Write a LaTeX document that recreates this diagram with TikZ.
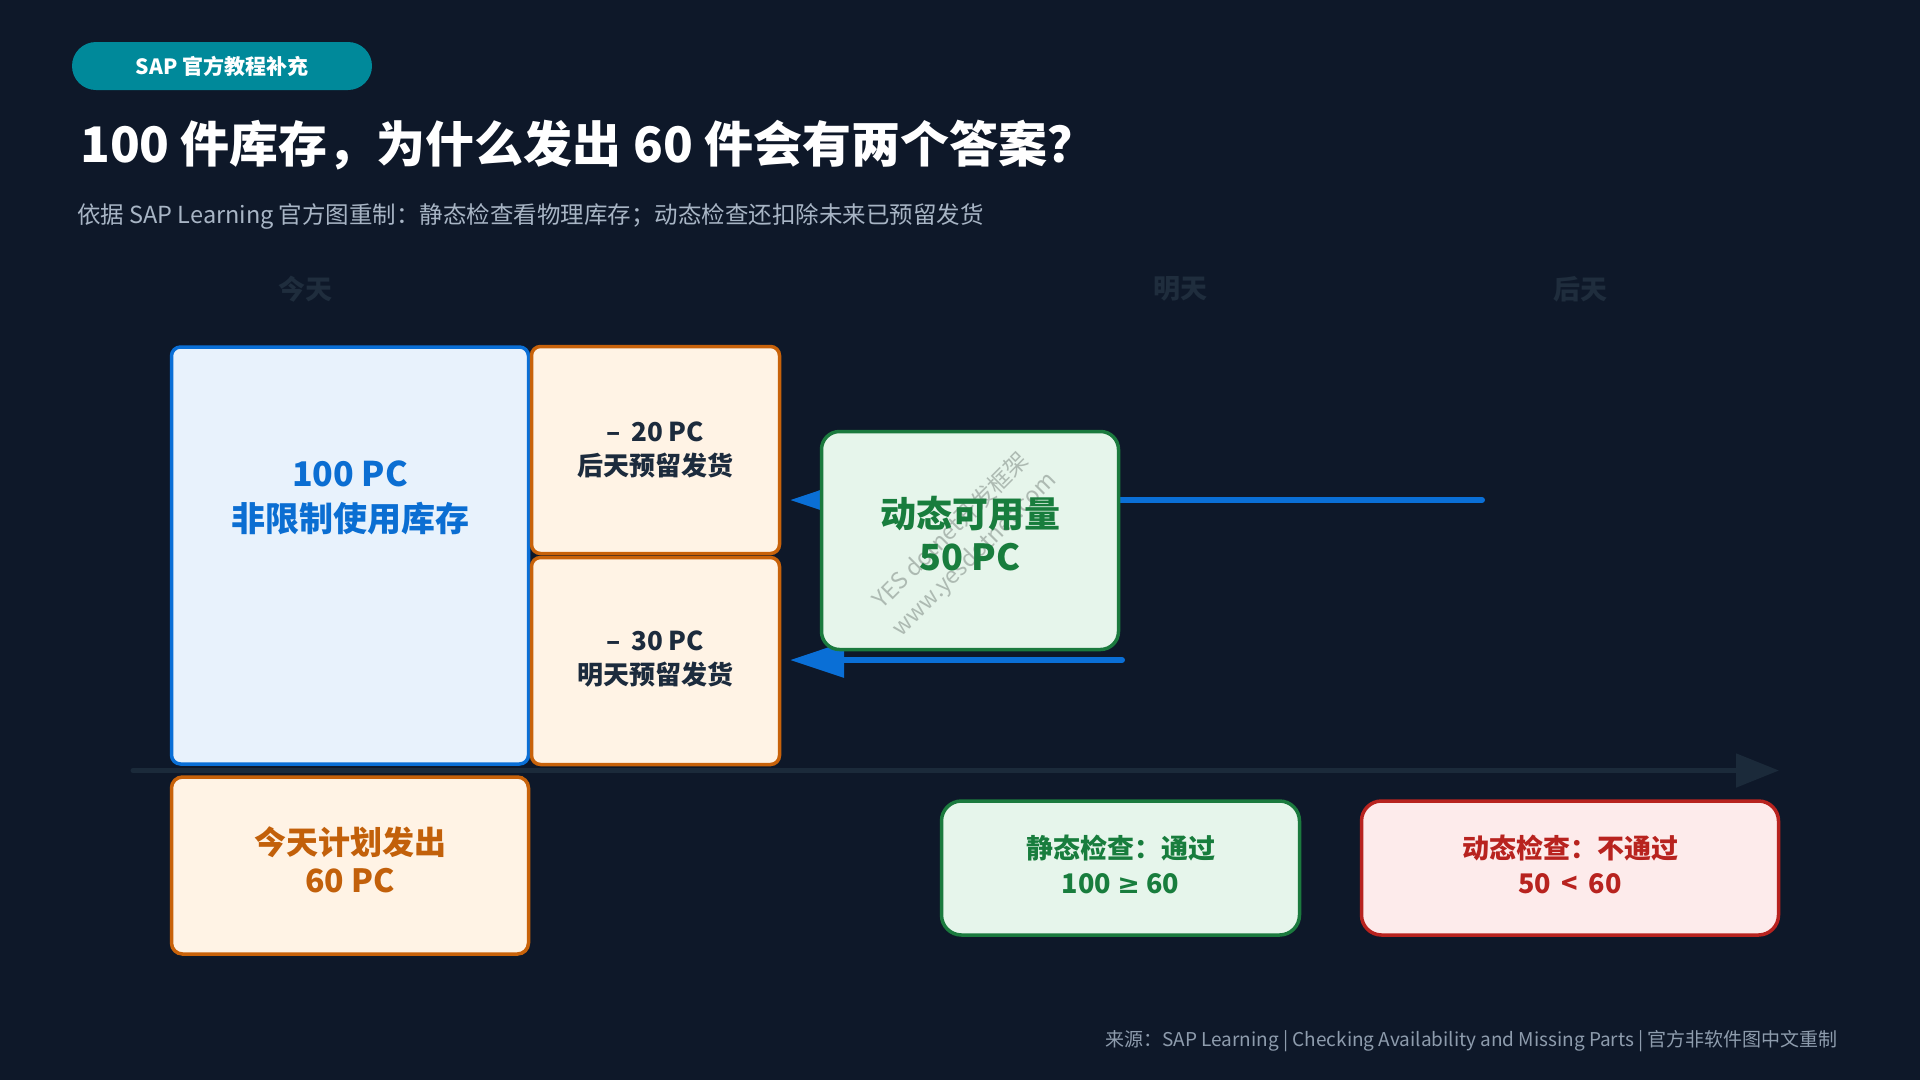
\documentclass[tikz,border=0pt]{standalone}
\usepackage{fontspec}
\setmainfont{Noto Sans CJK SC}
\newfontfamily\symfont{DejaVu Sans}
\usetikzlibrary{arrows.meta}
\definecolor{bg}{HTML}{0E1829}
\definecolor{teal}{HTML}{00899A}
\definecolor{cblue}{HTML}{0A6FD6}
\definecolor{cbluefill}{HTML}{E8F2FC}
\definecolor{cbluetext}{HTML}{0B6ED2}
\definecolor{corange}{HTML}{C8620A}
\definecolor{corangefill}{HTML}{FFF3E5}
\definecolor{corangetext}{HTML}{C2600A}
\definecolor{cdark}{HTML}{1C2B3D}
\definecolor{cgreen}{HTML}{1B7A3E}
\definecolor{cgreenfill}{HTML}{E6F5EB}
\definecolor{cgreentext}{HTML}{187D3D}
\definecolor{cred}{HTML}{B8231F}
\definecolor{credfill}{HTML}{FDEBEB}
\definecolor{credtext}{HTML}{B8231F}
\definecolor{dayc}{HTML}{1F2D3D}
\definecolor{axisc}{HTML}{1B2A3A}
\definecolor{subc}{HTML}{A8B5C5}
\definecolor{footc}{HTML}{8E9CAD}
\definecolor{wmc}{HTML}{7F8A84}
\tikzset{
  box/.style={draw, line width=3.5pt, inner sep=0pt},
  invbox/.style={box, draw=cblue, fill=cbluefill, rounded corners=9pt, minimum width=357pt, minimum height=417pt},
  resbox/.style={box, draw=corange, fill=corangefill, rounded corners=9pt, minimum width=248pt, minimum height=207pt},
  planbox/.style={box, draw=corange, fill=corangefill, rounded corners=11pt, minimum width=357pt, minimum height=177pt},
  availbox/.style={box, draw=cgreen, fill=cgreenfill, rounded corners=18pt, minimum width=297pt, minimum height=218pt},
  okbox/.style={box, draw=cgreen, fill=cgreenfill, rounded corners=20pt, minimum width=358pt, minimum height=134pt},
  failbox/.style={box, draw=cred, fill=credfill, rounded corners=20pt, minimum width=417pt, minimum height=134pt},
  txt/.style={align=center, inner sep=0pt},
  daylbl/.style={txt, text=dayc, font={\fontsize{27}{30}\selectfont\bfseries}},
  flow/.style={draw=cblue, line width=6pt, line cap=round, -{Triangle[length=54pt, width=34pt]}},
}
\begin{document}
\begin{tikzpicture}[x=1pt, y=-1pt]
\fill[bg] (0,0) rectangle (1920,1080);
\useasboundingbox (0,0) rectangle (1920,1080);

% header
\node[fill=teal, rounded corners=24pt, minimum width=300pt, minimum height=48pt, inner sep=0pt,
      text=white, font={\fontsize{21}{24}\selectfont\bfseries}] (tag) at (222,66) {SAP 官方教程补充};
\node[anchor=west, inner sep=0pt, text=white, font={\fontsize{49}{56}\selectfont\bfseries}] (title) at (80,145)
  {100 件库存，为什么发出 60 件会有两个答案？};
\node[anchor=west, inner sep=0pt, text=subc, font={\fontsize{23.5}{26}\selectfont}] (subtitle) at (77,216)
  {依据 SAP Learning 官方图重制：静态检查看物理库存；动态检查还扣除未来已预留发货};

% day labels
\node[daylbl] (today) at (305,289) {今天};
\node[daylbl] (tomorrow) at (1180,289) {明天};
\node[daylbl] (dayafter) at (1580,289) {后天};

% time axis
\coordinate (ax0) at (133,770.5);
\coordinate (ax1) at (1779,770.5);
\draw[draw=axisc, line width=5pt, line cap=round, -{Triangle[length=43pt, width=33pt]}] (ax0) -- (ax1);

% flows
\coordinate (u0) at (1482,500);
\coordinate (u1) at (790,500);
\coordinate (l0) at (1122,660);
\coordinate (l1) at (790,660);
\draw[flow] (u0) -- (u1);
\draw[flow] (l0) -- (l1);

% boxes
\node[invbox] (inv) at (350,555.5) {};
\node[txt, text=cbluetext, font={\fontsize{34}{45}\selectfont\bfseries}] (invtxt) at (350,498) {100 PC\\非限制使用库存};
\node[resbox] (res20) at (655.5,450) {};
\node[txt, text=cdark, font={\fontsize{26}{34}\selectfont\bfseries}] (res20txt) at (res20) {–\, 20 PC\\后天预留发货};
\node[resbox] (res30) at (655.5,661) {};
\node[txt, text=cdark, font={\fontsize{26}{34}\selectfont\bfseries}] (res30txt) at (655.5,659) {–\, 30 PC\\明天预留发货};
\node[planbox] (plan) at (350,865.5) {};
\node[txt, text=corangetext, font={\fontsize{32}{38}\selectfont\bfseries}] (plantxt) at (350,860) {今天计划发出\\60 PC};

\node[availbox] (avail) at (970,540.5) {};
\node[txt, rotate=45, text=wmc, opacity=0.55, font={\fontsize{23}{33}\selectfont}] (wm) at (963,543)
  {YES dotnet开发框架\\www.yesdotnet.com};
\node[txt, text=cgreentext, font={\fontsize{36}{43}\selectfont\bfseries}] (availtxt) at (970,534) {动态可用量\\50 PC};

\node[okbox] (static) at (1120.5,868) {};
\node[txt, text=cgreentext, font={\fontsize{27}{35}\selectfont\bfseries}] (statictxt) at (1120.5,864.5) {静态检查：通过\\100 {\symfont\bfseries ≥} 60};
\node[failbox] (dynamic) at (1570,868) {};
\node[txt, text=credtext, font={\fontsize{27}{35}\selectfont\bfseries}] (dynamictxt) at (1570,864.5) {动态检查：不通过\\50 \,<\, 60};

% footer
\node[anchor=east, inner sep=0pt, text=footc, font={\fontsize{19}{22}\selectfont}] (footer) at (1838,1041)
  {来源：SAP Learning | Checking Availability and Missing Parts | 官方非软件图中文重制};
\end{tikzpicture}
\end{document}
